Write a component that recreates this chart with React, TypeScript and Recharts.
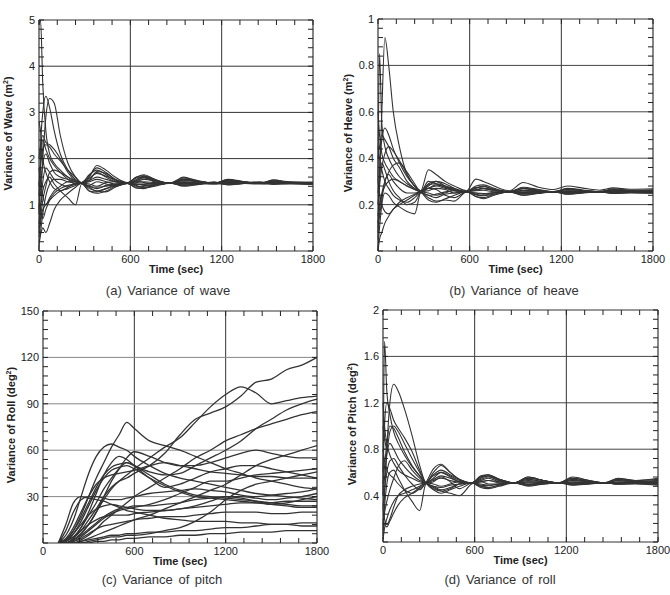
import React from 'react';
import { LineChart, Line, XAxis, YAxis, ReferenceLine } from 'recharts';

// sample times (s) for the runs that settle around a mean value
const settleTime = [0, 10, 25, 45, 70, 100, 140, 190, 240, 280, 330, 380, 440, 500, 580, 640, 690, 760, 860, 950, 1050, 1150, 1240, 1350, 1450, 1540, 1650, 1800];

const waveRuns = [
  [4.9, 5.0, 3.6, 2.6, 2.1, 1.9, 1.75, 1.6, 1.5, 1.48, 1.62, 1.8, 1.7, 1.55, 1.47, 1.55, 1.62, 1.55, 1.46, 1.55, 1.5, 1.46, 1.52, 1.49, 1.46, 1.5, 1.48, 1.47],
  [0.8, 2.2, 3.0, 3.35, 3.1, 2.6, 2.1, 1.75, 1.55, 1.47, 1.38, 1.3, 1.35, 1.42, 1.46, 1.4, 1.38, 1.42, 1.47, 1.42, 1.45, 1.48, 1.44, 1.46, 1.48, 1.45, 1.47, 1.46],
  [1.5, 1.2, 2.0, 2.9, 3.3, 3.2, 2.5, 1.9, 1.6, 1.48, 1.55, 1.7, 1.6, 1.5, 1.47, 1.52, 1.58, 1.5, 1.46, 1.5, 1.47, 1.45, 1.5, 1.48, 1.46, 1.49, 1.47, 1.48],
  [2.0, 2.3, 2.5, 2.35, 2.3, 2.2, 2.0, 1.7, 1.52, 1.47, 1.3, 1.25, 1.3, 1.4, 1.46, 1.36, 1.35, 1.42, 1.48, 1.4, 1.44, 1.5, 1.43, 1.47, 1.5, 1.44, 1.46, 1.45],
  [1.2, 1.8, 2.2, 2.3, 2.25, 2.1, 1.95, 1.75, 1.6, 1.47, 1.6, 1.85, 1.75, 1.6, 1.48, 1.6, 1.65, 1.55, 1.47, 1.58, 1.52, 1.46, 1.55, 1.5, 1.47, 1.53, 1.49, 1.48],
  [0.3, 0.6, 0.9, 1.0, 1.1, 1.2, 1.3, 1.35, 1.42, 1.47, 1.52, 1.6, 1.55, 1.5, 1.47, 1.5, 1.55, 1.52, 1.47, 1.53, 1.5, 1.47, 1.51, 1.49, 1.47, 1.5, 1.48, 1.47],
  [0.5, 0.9, 1.3, 1.5, 1.6, 1.45, 1.3, 1.15, 1.0, 1.45, 1.42, 1.5, 1.45, 1.4, 1.46, 1.45, 1.42, 1.44, 1.47, 1.45, 1.46, 1.47, 1.45, 1.47, 1.46, 1.47, 1.46, 1.46],
  [0.2, 0.35, 0.5, 0.4, 0.6, 0.9, 1.1, 1.25, 1.38, 1.47, 1.4, 1.35, 1.42, 1.45, 1.47, 1.48, 1.5, 1.48, 1.46, 1.48, 1.47, 1.46, 1.48, 1.47, 1.46, 1.47, 1.48, 1.47],
  [1.8, 1.5, 1.2, 1.0, 1.15, 1.3, 1.4, 1.5, 1.5, 1.48, 1.65, 1.75, 1.65, 1.52, 1.47, 1.58, 1.6, 1.5, 1.46, 1.52, 1.5, 1.47, 1.52, 1.49, 1.47, 1.51, 1.48, 1.49],
  [0.9, 1.4, 1.9, 2.1, 1.9, 1.7, 1.6, 1.55, 1.5, 1.47, 1.35, 1.3, 1.28, 1.38, 1.46, 1.42, 1.37, 1.4, 1.47, 1.43, 1.44, 1.48, 1.45, 1.46, 1.48, 1.46, 1.45, 1.44],
  [0.6, 1.0, 1.5, 1.8, 1.7, 1.55, 1.45, 1.4, 1.45, 1.48, 1.58, 1.68, 1.62, 1.55, 1.48, 1.52, 1.6, 1.53, 1.47, 1.56, 1.51, 1.47, 1.53, 1.5, 1.46, 1.52, 1.5, 1.48],
  [2.8, 2.6, 2.0, 1.7, 1.5, 1.35, 1.3, 1.38, 1.45, 1.47, 1.45, 1.4, 1.48, 1.5, 1.47, 1.44, 1.45, 1.47, 1.46, 1.46, 1.47, 1.45, 1.47, 1.46, 1.45, 1.46, 1.47, 1.45],
  [0.1, 0.4, 0.8, 1.2, 1.45, 1.55, 1.55, 1.5, 1.47, 1.47, 1.5, 1.55, 1.5, 1.45, 1.47, 1.52, 1.48, 1.45, 1.47, 1.49, 1.47, 1.46, 1.49, 1.48, 1.47, 1.48, 1.46, 1.46],
  [1.4, 1.9, 2.4, 2.2, 2.0, 1.85, 1.7, 1.55, 1.45, 1.47, 1.3, 1.28, 1.35, 1.42, 1.46, 1.38, 1.4, 1.43, 1.47, 1.42, 1.45, 1.46, 1.44, 1.47, 1.46, 1.45, 1.47, 1.45],
  [0.4, 0.7, 1.1, 1.4, 1.7, 1.75, 1.7, 1.6, 1.52, 1.47, 1.52, 1.72, 1.68, 1.55, 1.47, 1.6, 1.63, 1.53, 1.46, 1.6, 1.5, 1.46, 1.54, 1.49, 1.46, 1.54, 1.48, 1.47],
  [1.0, 0.8, 0.7, 0.9, 1.1, 1.25, 1.35, 1.42, 1.45, 1.47, 1.4, 1.38, 1.4, 1.44, 1.47, 1.45, 1.44, 1.46, 1.47, 1.45, 1.47, 1.47, 1.46, 1.47, 1.47, 1.46, 1.47, 1.46],
];

const heaveRuns = [
  [0.3, 0.85, 0.55, 0.45, 0.4, 0.36, 0.32, 0.29, 0.27, 0.255, 0.27, 0.28, 0.27, 0.26, 0.255, 0.265, 0.27, 0.265, 0.255, 0.26, 0.258, 0.255, 0.26, 0.257, 0.255, 0.258, 0.256, 0.255],
  [0.05, 0.3, 0.6, 0.92, 0.8, 0.6, 0.45, 0.33, 0.28, 0.26, 0.35, 0.33, 0.3, 0.28, 0.26, 0.31, 0.3, 0.28, 0.26, 0.295, 0.275, 0.265, 0.28, 0.27, 0.262, 0.272, 0.266, 0.268],
  [0.1, 0.35, 0.48, 0.53, 0.5, 0.44, 0.38, 0.32, 0.28, 0.255, 0.24, 0.23, 0.245, 0.25, 0.255, 0.245, 0.24, 0.25, 0.256, 0.248, 0.252, 0.256, 0.25, 0.254, 0.256, 0.252, 0.254, 0.253],
  [0.4, 0.45, 0.5, 0.48, 0.45, 0.4, 0.36, 0.3, 0.27, 0.255, 0.29, 0.3, 0.28, 0.265, 0.255, 0.27, 0.28, 0.265, 0.255, 0.268, 0.26, 0.255, 0.265, 0.26, 0.255, 0.262, 0.258, 0.257],
  [0.2, 0.28, 0.36, 0.42, 0.45, 0.43, 0.39, 0.33, 0.28, 0.256, 0.22, 0.21, 0.225, 0.24, 0.256, 0.235, 0.23, 0.245, 0.256, 0.24, 0.25, 0.256, 0.245, 0.252, 0.256, 0.248, 0.252, 0.25],
  [0.15, 0.2, 0.25, 0.3, 0.34, 0.37, 0.38, 0.34, 0.29, 0.256, 0.3, 0.29, 0.275, 0.262, 0.255, 0.275, 0.27, 0.262, 0.256, 0.27, 0.262, 0.256, 0.268, 0.26, 0.256, 0.265, 0.26, 0.26],
  [0.02, 0.1, 0.2, 0.25, 0.24, 0.21, 0.19, 0.17, 0.16, 0.25, 0.23, 0.215, 0.22, 0.215, 0.255, 0.235, 0.225, 0.24, 0.255, 0.24, 0.248, 0.255, 0.245, 0.25, 0.255, 0.248, 0.25, 0.249],
  [0.0, 0.05, 0.08, 0.12, 0.15, 0.18, 0.2, 0.22, 0.24, 0.255, 0.27, 0.285, 0.275, 0.26, 0.256, 0.262, 0.268, 0.26, 0.255, 0.262, 0.258, 0.255, 0.26, 0.257, 0.255, 0.258, 0.256, 0.256],
  [0.3, 0.25, 0.2, 0.17, 0.16, 0.18, 0.21, 0.23, 0.245, 0.255, 0.28, 0.3, 0.29, 0.27, 0.256, 0.28, 0.285, 0.27, 0.256, 0.275, 0.265, 0.256, 0.27, 0.262, 0.256, 0.268, 0.262, 0.264],
  [0.6, 0.5, 0.42, 0.38, 0.35, 0.32, 0.3, 0.28, 0.265, 0.255, 0.24, 0.245, 0.255, 0.26, 0.255, 0.25, 0.248, 0.252, 0.255, 0.252, 0.254, 0.255, 0.252, 0.254, 0.255, 0.253, 0.254, 0.254],
  [0.08, 0.15, 0.22, 0.3, 0.33, 0.3, 0.27, 0.25, 0.25, 0.255, 0.26, 0.27, 0.265, 0.25, 0.255, 0.26, 0.262, 0.255, 0.255, 0.258, 0.256, 0.255, 0.257, 0.256, 0.255, 0.257, 0.256, 0.255],
  [0.45, 0.4, 0.35, 0.3, 0.27, 0.24, 0.22, 0.21, 0.23, 0.255, 0.27, 0.265, 0.24, 0.23, 0.255, 0.242, 0.238, 0.245, 0.255, 0.245, 0.25, 0.255, 0.248, 0.252, 0.255, 0.25, 0.252, 0.251],
  [0.12, 0.18, 0.24, 0.28, 0.3, 0.31, 0.3, 0.28, 0.265, 0.255, 0.25, 0.24, 0.25, 0.262, 0.255, 0.25, 0.245, 0.252, 0.256, 0.25, 0.254, 0.256, 0.252, 0.255, 0.256, 0.253, 0.255, 0.254],
  [0.25, 0.32, 0.38, 0.35, 0.3, 0.26, 0.23, 0.2, 0.21, 0.255, 0.285, 0.29, 0.28, 0.268, 0.256, 0.272, 0.278, 0.265, 0.256, 0.27, 0.262, 0.256, 0.266, 0.26, 0.256, 0.264, 0.26, 0.262],
];

const pitchRuns = [
  [0.4, 1.73, 1.3, 1.1, 0.95, 0.85, 0.75, 0.65, 0.57, 0.51, 0.55, 0.6, 0.57, 0.53, 0.51, 0.55, 0.57, 0.54, 0.51, 0.55, 0.53, 0.51, 0.54, 0.52, 0.51, 0.53, 0.52, 0.52],
  [0.1, 0.4, 0.8, 1.2, 1.36, 1.3, 1.15, 0.92, 0.66, 0.51, 0.48, 0.45, 0.47, 0.5, 0.51, 0.48, 0.47, 0.49, 0.51, 0.49, 0.5, 0.51, 0.5, 0.505, 0.51, 0.5, 0.505, 0.5],
  [0.6, 1.0, 1.2, 1.15, 1.05, 0.98, 0.9, 0.78, 0.62, 0.51, 0.6, 0.66, 0.6, 0.54, 0.51, 0.56, 0.58, 0.54, 0.51, 0.56, 0.53, 0.51, 0.55, 0.53, 0.51, 0.545, 0.53, 0.55],
  [1.0, 0.9, 0.8, 0.95, 1.0, 0.95, 0.85, 0.72, 0.6, 0.51, 0.45, 0.42, 0.45, 0.48, 0.51, 0.47, 0.46, 0.48, 0.51, 0.48, 0.5, 0.51, 0.49, 0.5, 0.51, 0.5, 0.505, 0.5],
  [0.05, 0.3, 0.5, 0.6, 0.62, 0.55, 0.45, 0.35, 0.27, 0.5, 0.52, 0.56, 0.52, 0.46, 0.51, 0.52, 0.5, 0.5, 0.51, 0.51, 0.51, 0.51, 0.51, 0.51, 0.51, 0.51, 0.51, 0.51],
  [0.3, 0.2, 0.15, 0.2, 0.3, 0.4, 0.45, 0.48, 0.5, 0.51, 0.47, 0.44, 0.42, 0.4, 0.5, 0.52, 0.53, 0.51, 0.505, 0.52, 0.51, 0.505, 0.515, 0.51, 0.505, 0.512, 0.51, 0.51],
  [0.15, 0.25, 0.35, 0.45, 0.55, 0.65, 0.7, 0.62, 0.55, 0.51, 0.58, 0.62, 0.58, 0.54, 0.51, 0.57, 0.58, 0.54, 0.51, 0.56, 0.53, 0.51, 0.55, 0.52, 0.51, 0.54, 0.52, 0.53],
  [0.02, 0.12, 0.2, 0.28, 0.35, 0.4, 0.42, 0.45, 0.48, 0.51, 0.54, 0.57, 0.55, 0.52, 0.51, 0.53, 0.55, 0.52, 0.51, 0.53, 0.52, 0.51, 0.53, 0.52, 0.51, 0.52, 0.515, 0.52],
  [0.8, 0.7, 0.62, 0.58, 0.55, 0.5, 0.45, 0.42, 0.46, 0.51, 0.63, 0.67, 0.6, 0.54, 0.51, 0.56, 0.57, 0.53, 0.51, 0.55, 0.53, 0.51, 0.56, 0.53, 0.51, 0.55, 0.53, 0.54],
  [0.4, 0.55, 0.75, 0.85, 0.8, 0.72, 0.65, 0.58, 0.53, 0.51, 0.46, 0.44, 0.46, 0.5, 0.51, 0.48, 0.47, 0.49, 0.51, 0.49, 0.5, 0.51, 0.495, 0.5, 0.51, 0.5, 0.5, 0.49],
  [0.2, 0.15, 0.13, 0.18, 0.25, 0.32, 0.38, 0.42, 0.47, 0.51, 0.5, 0.48, 0.5, 0.52, 0.51, 0.5, 0.49, 0.5, 0.51, 0.5, 0.505, 0.51, 0.5, 0.505, 0.51, 0.505, 0.505, 0.505],
  [1.2, 1.0, 0.85, 0.75, 0.68, 0.62, 0.58, 0.55, 0.52, 0.51, 0.53, 0.55, 0.53, 0.515, 0.51, 0.52, 0.53, 0.52, 0.51, 0.52, 0.515, 0.51, 0.52, 0.515, 0.51, 0.515, 0.51, 0.515],
  [0.3, 0.45, 0.6, 0.7, 0.72, 0.66, 0.58, 0.5, 0.45, 0.51, 0.57, 0.6, 0.56, 0.52, 0.51, 0.54, 0.56, 0.53, 0.51, 0.54, 0.52, 0.51, 0.53, 0.52, 0.51, 0.53, 0.52, 0.53],
  [0.5, 0.65, 0.85, 1.0, 0.98, 0.9, 0.78, 0.66, 0.57, 0.51, 0.48, 0.47, 0.49, 0.5, 0.51, 0.49, 0.485, 0.5, 0.51, 0.495, 0.505, 0.51, 0.5, 0.505, 0.51, 0.5, 0.505, 0.5],
];

// roll runs drift upward instead of settling
const rollTime = [0, 100, 150, 200, 250, 300, 350, 400, 450, 500, 550, 600, 700, 800, 900, 1000, 1100, 1200, 1300, 1400, 1500, 1600, 1700, 1800];

const rollRuns = [
  [null, 0, 2, 8, 18, 30, 42, 52, 62, 70, 78, 74, 66, 63, 60, 56, 52, 48, 45, 42, 40, 38, 36, 35],
  [null, 0, 0, 3, 8, 15, 22, 30, 36, 40, 42, 45, 50, 58, 70, 80, 84, 88, 95, 104, 106, 112, 115, 120],
  [null, 0, 0, 2, 6, 12, 20, 28, 35, 40, 44, 48, 55, 62, 68, 78, 88, 96, 101, 97, 90, 92, 94, 95],
  [null, 0, 0, 0, 2, 5, 9, 14, 18, 22, 26, 30, 36, 42, 48, 55, 60, 66, 70, 74, 77, 80, 83, 85],
  [null, 0, 1, 4, 10, 18, 26, 35, 42, 48, 52, 50, 46, 44, 45, 50, 55, 60, 66, 74, 80, 86, 90, 93],
  [null, 0, 5, 15, 30, 45, 56, 62, 64, 62, 60, 56, 50, 45, 42, 40, 38, 36, 34, 32, 31, 30, 29, 28],
  [null, 0, 0, 2, 6, 12, 20, 30, 40, 48, 55, 59, 56, 52, 50, 50, 52, 55, 58, 60, 58, 56, 55, 55],
  [null, 0, 2, 8, 16, 26, 36, 44, 49, 51, 52, 50, 44, 38, 34, 31, 30, 29, 28, 27, 26, 25, 24, 24],
  [null, 0, 1, 6, 14, 24, 34, 42, 47, 49, 50, 48, 42, 37, 33, 30, 29, 28, 27, 26, 25, 24, 23, 23],
  [null, 0, 12, 26, 30, 29, 28, 27, 25, 23, 21, 20, 18, 16, 15, 14, 14, 14, 13, 13, 12, 12, 11, 11],
  [null, 0, 0, 0, 1, 3, 5, 7, 9, 11, 13, 15, 18, 22, 26, 30, 34, 38, 44, 50, 54, 57, 60, 63],
  [null, 0, 0, 1, 4, 8, 12, 16, 19, 21, 22, 23, 25, 28, 32, 36, 40, 40, 42, 44, 45, 46, 47, 48],
  [null, 0, 3, 10, 20, 30, 38, 42, 44, 45, 46, 47, 50, 52, 50, 48, 46, 45, 44, 43, 43, 42, 42, 42],
  [null, 0, 0, 2, 5, 9, 13, 17, 20, 22, 23, 24, 24, 25, 26, 28, 29, 30, 30, 29, 28, 29, 30, 32],
  [null, 0, 1, 4, 8, 12, 15, 17, 18, 18, 18, 19, 20, 21, 22, 24, 27, 30, 29, 27, 25, 26, 28, 30],
  [null, 0, 0, 1, 3, 6, 9, 11, 12, 13, 14, 15, 16, 17, 17, 18, 19, 20, 20, 20, 19, 19, 20, 20],
  [null, 0, 0, 0, 1, 2, 3, 4, 5, 5, 6, 6, 7, 7, 8, 8, 9, 10, 10, 11, 12, 12, 13, 13],
  [null, 0, 0, 0, 0, 1, 2, 3, 4, 4, 5, 5, 6, 8, 10, 14, 20, 28, 34, 38, 40, 42, 44, 46],
  [null, 0, 2, 6, 12, 18, 22, 24, 25, 24, 23, 22, 21, 21, 22, 23, 24, 25, 26, 26, 26, 27, 27, 27],
  [null, 0, 8, 20, 28, 30, 30, 29, 28, 28, 29, 30, 32, 33, 34, 35, 34, 33, 31, 30, 31, 32, 33, 35],
  [null, 0, 0, 3, 10, 20, 32, 44, 52, 56, 54, 50, 42, 36, 38, 42, 46, 48, 50, 50, 48, 46, 44, 42],
  [null, 0, 0, 0, 0, 0, 1, 1, 2, 2, 3, 3, 4, 4, 5, 5, 6, 6, 7, 7, 7, 8, 8, 8],
];

const timeTicks = [0, 600, 1200, 1800];
const waveTicks = [1, 2, 3, 4, 5];
const heaveTicks = [0.2, 0.4, 0.6, 0.8, 1];
const rollTicks = [30, 60, 90, 120, 150];
const pitchTicks = [0.4, 0.8, 1.2, 1.6, 2];

const FONT = 'Arial, "Liberation Sans", Helvetica, sans-serif';
const INK = '#333';
const W = 335;
const H = 300;
const TICK = 5;

const toRows = (time: number[], runs: (number | null)[][]) =>
  time.map((t, i) => {
    const row: Record<string, number | null> = { t };
    runs.forEach((run, k) => {
      row['run' + k] = run[i];
    });
    return row;
  });

const steps = (max: number, step: number) => {
  const out: number[] = [];
  for (let i = 0; i * step <= max + 1e-9; i++) out.push(Math.round(i * step * 1000) / 1000);
  return out;
};

const xMinor = steps(1800, 120);

type PanelProps = {
  left: number;
  top: number;
  plot: { l: number; r: number; t: number; b: number };
  time: number[];
  runs: (number | null)[][];
  yMax: number;
  yTicks: number[];
  yStep: number;
  yName: string;
  yUnit: string;
  titleX: number;
  caption: string;
  captionX: number;
  captionY: number;
  lineWidth: number;
  hGrid: string;
};

function Panel(p: PanelProps) {
  const data = toRows(p.time, p.runs);
  const yMinor = steps(p.yMax, p.yStep);
  const { l, r, t, b } = p.plot;
  const midX = (l + r) / 2;
  const midY = (t + b) / 2 - 2;
  const hasLabel = (v: number) => p.yTicks.some((k) => Math.abs(k - v) < 1e-6);
  const tickLine = { stroke: '#222', strokeWidth: 1, fill: 'none' };

  // inward tick marks are drawn by the tick renderers themselves
  const bottomTick = (props: any) => {
    const v = props.payload.value;
    const x = props.x;
    return (
      <g>
        <path d={`M${x},${b}L${x},${b - TICK}`} {...tickLine} />
        {timeTicks.includes(v) && (
          <text x={x} y={b + 4} dy="0.71em" textAnchor="middle" fontSize={11} fill="#222" stroke="none" fontFamily={FONT}>
            {v}
          </text>
        )}
      </g>
    );
  };
  const topTick = (props: any) => <path d={`M${props.x},${t}L${props.x},${t + TICK}`} {...tickLine} />;
  const leftTick = (props: any) => {
    const v = props.payload.value;
    const y = props.y;
    return (
      <g>
        <path d={`M${l},${y}L${l + TICK},${y}`} {...tickLine} />
        {hasLabel(v) && (
          <text x={l - 4} y={y} dy="0.355em" textAnchor="end" fontSize={11} fill="#222" stroke="none" fontFamily={FONT}>
            {v}
          </text>
        )}
      </g>
    );
  };
  const rightTick = (props: any) => <path d={`M${r},${props.y}L${r - TICK},${props.y}`} {...tickLine} />;

  const yTitle = () => {
    const x = p.titleX + 4;
    return (
      <text
        x={x}
        y={midY}
        transform={`rotate(-90 ${x} ${midY})`}
        textAnchor="middle"
        fontSize={11}
        fontWeight="bold"
        fill="#222"
        fontFamily={FONT}
      >
        {`${p.yName} (${p.yUnit}`}
        <tspan dy={-4} fontSize={7}>2</tspan>
        <tspan dy={4}>)</tspan>
      </text>
    );
  };

  const xTitle = () => (
    <text x={midX} y={b + 21.5} textAnchor="middle" fontSize={11} fontWeight="bold" fill="#222" fontFamily={FONT}>
      Time (sec)
    </text>
  );

  const axisStroke = { stroke: '#333', strokeWidth: 1.2 };

  return (
    <>
      <div style={{ position: 'absolute', left: p.left, top: p.top, width: W, height: H }}>
        <LineChart
          width={W}
          height={H}
          data={data}
          margin={{ left: 0, right: W - r - 1, top: t - 1, bottom: H - b - 30 }}
        >
          <XAxis
            xAxisId="bottom"
            dataKey="t"
            type="number"
            domain={[0, 1800]}
            ticks={xMinor}
            interval={0}
            height={30}
            tickLine={false}
            tick={bottomTick}
            axisLine={axisStroke}
            label={{ content: xTitle }}
          />
          <XAxis
            xAxisId="top"
            orientation="top"
            dataKey="t"
            type="number"
            domain={[0, 1800]}
            ticks={xMinor}
            interval={0}
            height={1}
            tickLine={false}
            tick={topTick}
            axisLine={axisStroke}
          />
          <YAxis
            yAxisId="left"
            type="number"
            domain={[0, p.yMax]}
            allowDataOverflow
            ticks={yMinor}
            interval={0}
            width={l}
            tickLine={false}
            tick={leftTick}
            axisLine={axisStroke}
            label={{ content: yTitle }}
          />
          <YAxis
            yAxisId="right"
            orientation="right"
            type="number"
            domain={[0, p.yMax]}
            allowDataOverflow
            ticks={yMinor}
            interval={0}
            width={1}
            tickLine={false}
            tick={rightTick}
            axisLine={axisStroke}
          />
          {timeTicks
            .filter((v) => v > 0 && v < 1800)
            .map((v) => (
              <ReferenceLine key={'v' + v} xAxisId="bottom" yAxisId="left" x={v} stroke="#333" strokeWidth={1} />
            ))}
          {p.yTicks
            .filter((v) => v < p.yMax)
            .map((v) => (
              <ReferenceLine key={'h' + v} xAxisId="bottom" yAxisId="left" y={v} stroke={p.hGrid} strokeWidth={1} />
            ))}
          {p.runs.map((_, k) => (
            <Line
              key={k}
              xAxisId="bottom"
              yAxisId="left"
              dataKey={'run' + k}
              type="monotone"
              stroke={INK}
              strokeWidth={p.lineWidth}
              dot={false}
              activeDot={false}
              isAnimationActive={false}
            />
          ))}
        </LineChart>
      </div>
      <div
        style={{
          position: 'absolute',
          left: p.left + p.captionX - 110,
          top: p.top + p.captionY - 9,
          width: 220,
          textAlign: 'center',
          fontFamily: FONT,
          fontSize: 13,
          lineHeight: '18px',
          wordSpacing: 2,
          color: '#333',
        }}
      >
        {p.caption}
      </div>
    </>
  );
}

export default function App() {
  return (
    <div style={{ position: 'absolute', left: 0, top: 0, width: 670, height: 595, background: '#fff', overflow: 'hidden' }}>
      <Panel
        left={0}
        top={0}
        plot={{ l: 39, r: 313, t: 20, b: 251 }}
        time={settleTime}
        runs={waveRuns}
        yMax={5}
        yTicks={waveTicks}
        yStep={0.2}
        yName="Variance of Wave"
        yUnit="m"
        titleX={8}
        caption="(a) Variance of wave"
        captionX={168}
        captionY={291}
        lineWidth={1.1}
        hGrid="#333"
      />
      <Panel
        left={335}
        top={0}
        plot={{ l: 43, r: 318, t: 19, b: 251 }}
        time={settleTime}
        runs={heaveRuns}
        yMax={1}
        yTicks={heaveTicks}
        yStep={0.04}
        yName="Variance of Heave"
        yUnit="m"
        titleX={13}
        caption="(b) Variance of heave"
        captionX={179}
        captionY={291}
        lineWidth={1.1}
        hGrid="#444"
      />
      <Panel
        left={0}
        top={295}
        plot={{ l: 43, r: 317, t: 16, b: 248 }}
        time={rollTime}
        runs={rollRuns}
        yMax={150}
        yTicks={rollTicks}
        yStep={6}
        yName="Variance of Roll"
        yUnit="deg"
        titleX={11}
        caption="(c) Variance of pitch"
        captionX={162}
        captionY={285}
        lineWidth={1.3}
        hGrid="#888"
      />
      <Panel
        left={335}
        top={295}
        plot={{ l: 48, r: 323, t: 15, b: 247 }}
        time={settleTime}
        runs={pitchRuns}
        yMax={2}
        yTicks={pitchTicks}
        yStep={0.08}
        yName="Variance of Pitch"
        yUnit="deg"
        titleX={17}
        caption="(d) Variance of roll"
        captionX={165}
        captionY={285}
        lineWidth={1.1}
        hGrid="#444"
      />
    </div>
  );
}
